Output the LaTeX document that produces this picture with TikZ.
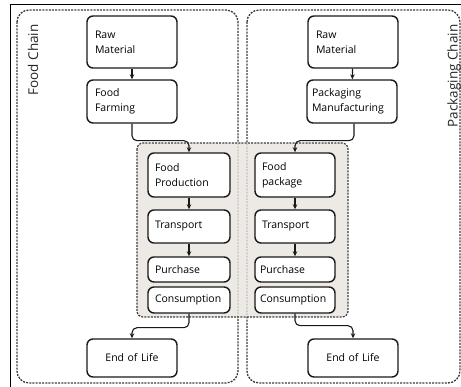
\documentclass[tikz,border=0pt]{standalone}
\usepackage{fontspec}
\setmainfont{Open Sans}
\usetikzlibrary{arrows.meta}
\definecolor{midfill}{RGB}{233,228,221}
\definecolor{dashc}{RGB}{60,60,60}
\tikzset{
  box/.style={draw=black!90, line width=1.4pt, rounded corners=6pt, fill=white,
    inner xsep=7pt, inner ysep=0pt, align=left,
    font=\fontsize{10.5}{15}\selectfont},
  chain/.style={draw=dashc, line width=1.3pt, dash pattern=on 2pt off 1.2pt, rounded corners=12pt},
  arr/.style={draw=black!90, line width=1.1pt, rounded corners=5pt, -{Stealth[length=5pt,width=4.5pt]}},
  chainlabel/.style={rotate=90, font=\fontsize{13.5}{16}\selectfont, text=black!85}
}
\begin{document}
\begin{tikzpicture}[x=1pt,y=-1pt]
\useasboundingbox (0,0) rectangle (461,387);
% page frame remnants
\draw[line width=1pt] (10.5,4.5) -- (461,4.5);
\draw[line width=1pt] (10.5,4.5) -- (10.5,387);
% chains
\draw[chain] (17,10) rectangle (238,383);
\draw[chain] (247,10) rectangle (460,383);
% shared middle area
\fill[midfill, fill opacity=0.8, rounded corners=6pt] (137,143) rectangle (348,317);
\draw[draw=dashc, line width=1.2pt, dash pattern=on 2pt off 1.2pt, rounded corners=6pt] (137,143) rectangle (348,317);
% labels
\node[chainlabel] (lfc) at (33,60) {Food Chain};
\node[chainlabel] (lpc) at (454,76) {Packaging Chain};
% left column
\node[box, minimum width=90pt, text width=74pt, minimum height=52pt] (lraw) at (132,42) {Raw\\Material};
\node[box, minimum width=90pt, text width=74pt, minimum height=43pt] (lfarm) at (132,101.5) {Food\\Farming};
\node[box, minimum width=82pt, text width=68pt, minimum height=44pt] (lprod) at (189,175) {Food\\Production};
\node[box, minimum width=82pt, text width=68pt, minimum height=33pt] (ltrans) at (189,226.5) {Transport};
\node[box, minimum width=82pt, text width=68pt, minimum height=25pt] (lpurch) at (189,269.5) {Purchase};
\node[box, minimum width=82pt, text width=68pt, minimum height=26pt] (lcons) at (189,300) {Consumption};
\node[box, align=center, minimum width=90pt, text width=74pt, minimum height=38pt] (lend) at (132,358) {End of Life};
% right column
\node[box, minimum width=90pt, text width=74pt, minimum height=52pt] (rraw) at (353,42) {Raw\\Material};
\node[box, minimum width=90pt, text width=80pt, inner xsep=5pt, minimum height=43pt] (rman) at (352,101.5) {Packaging\\Manufacturing};
\node[box, minimum width=80pt, text width=66pt, minimum height=44pt] (rpack) at (295,175) {Food\\package};
\node[box, minimum width=80pt, text width=66pt, minimum height=33pt] (rtrans) at (295,226.5) {Transport};
\node[box, minimum width=80pt, text width=70pt, inner xsep=5pt, minimum height=25pt] (rpurch) at (295,269.5) {Purchase};
\node[box, minimum width=80pt, text width=70pt, inner xsep=5pt, minimum height=26pt] (rcons) at (295,300) {Consumption};
\node[box, align=center, minimum width=90pt, text width=74pt, minimum height=38pt] (rend) at (353,358) {End of Life};
% arrows left
\draw[arr] (lraw) -- (lfarm);
\draw[arr] (lfarm.south) -- ++(0,17) -| (lprod.north);
\draw[arr] (lprod) -- (ltrans);
\draw[arr] (ltrans) -- (lpurch);
\draw[arr] (lcons.south) -- ++(0,14) -| (lend.north);
% arrows right
\draw[arr] (rraw) -- (rman);
\draw[arr] ([xshift=2pt]rman.south) -- ++(0,17) -| (rpack.north);
\draw[arr] (rpack) -- (rtrans);
\draw[arr] (rtrans) -- (rpurch);
\draw[arr] (rcons.south) -- ++(0,12) -| (rend.north);
\end{tikzpicture}
\end{document}
